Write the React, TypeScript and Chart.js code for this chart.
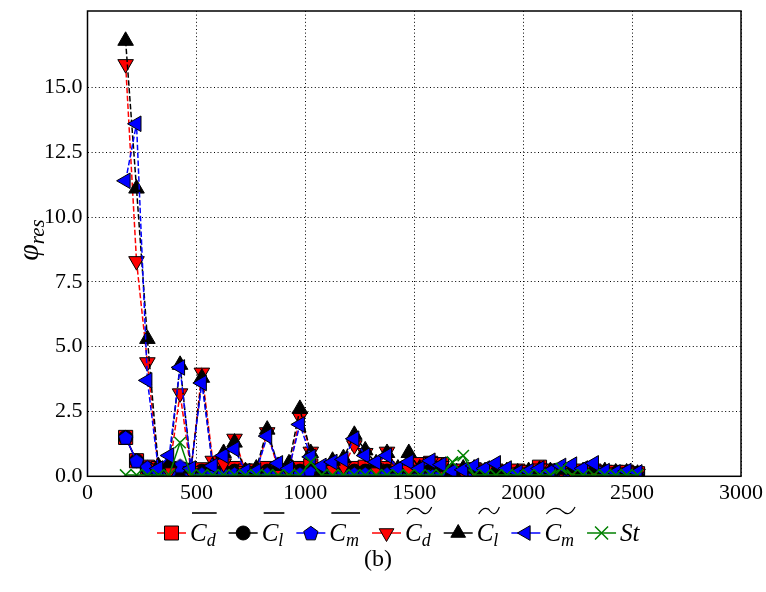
import React, { useEffect, useRef } from 'react';
import { Chart, registerables } from 'chart.js';

Chart.register(...registerables);

// ---------- data ----------
const xValues = [175, 225, 275, 325, 375, 425, 475, 525, 575, 625, 675, 725, 775, 825, 875, 925, 975, 1025, 1075, 1125, 1175, 1225, 1275, 1325, 1375, 1425, 1475, 1525, 1575, 1625, 1675, 1725, 1775, 1825, 1875, 1925, 1975, 2025, 2075, 2125, 2175, 2225, 2275, 2325, 2375, 2425, 2475, 2525];

const cdBar = [1.5, 0.6, 0.35, 0.3, 0.3, 0.25, 0.2, 0.25, 0.2, 0.3, 0.3, 0.2, 0.2, 0.3, 0.2, 0.15, 0.3, 0.4, 0.2, 0.2, 0.25, 0.3, 0.35, 0.2, 0.3, 0.2, 0.25, 0.45, 0.5, 0.45, 0.15, 0.2, 0.25, 0.2, 0.2, 0.15, 0.2, 0.15, 0.35, 0.2, 0.2, 0.15, 0.2, 0.2, 0.15, 0.15, 0.15, 0.1];
const clBar = [1.5, 0.6, 0.3, 0.2, 0.2, 0.2, 0.15, 0.2, 0.15, 0.2, 0.2, 0.15, 0.15, 0.2, 0.15, 0.1, 0.2, 0.2, 0.15, 0.15, 0.2, 0.2, 0.2, 0.15, 0.2, 0.15, 0.2, 0.2, 0.2, 0.15, 0.1, 0.15, 0.15, 0.1, 0.15, 0.1, 0.1, 0.1, 0.15, 0.1, 0.15, 0.1, 0.1, 0.1, 0.1, 0.1, 0.1, 0.1];
const cmBar = [1.5, 0.6, 0.35, 0.15, 0.1, 0.4, 0.1, 0.1, 0.1, 0.1, 0.1, 0.1, 0.1, 0.1, 0.1, 0.1, 0.1, 0.15, 0.1, 0.1, 0.1, 0.1, 0.1, 0.1, 0.1, 0.1, 0.1, 0.1, 0.1, 0.1, 0.1, 0.1, 0.1, 0.1, 0.1, 0.1, 0.1, 0.1, 0.1, 0.1, 0.1, 0.1, 0.1, 0.1, 0.1, 0.1, 0.1, 0.1];
const cdTilde = [15.9, 8.3, 4.4, 0.3, 0.2, 3.2, 0.2, 4.0, 0.6, 0.5, 1.45, 0.2, 0.15, 1.7, 0.3, 0.2, 2.3, 0.95, 0.2, 0.3, 0.4, 1.2, 0.9, 0.3, 0.95, 0.3, 0.25, 0.25, 0.55, 0.4, 0.2, 0.2, 0.25, 0.15, 0.2, 0.15, 0.1, 0.15, 0.3, 0.15, 0.25, 0.2, 0.15, 0.2, 0.15, 0.1, 0.15, 0.1];
const clTilde = [16.8, 11.1, 5.3, 0.4, 0.5, 4.3, 0.3, 3.8, 0.4, 0.9, 1.3, 0.2, 0.3, 1.8, 0.4, 0.5, 2.6, 0.9, 0.2, 0.6, 0.7, 1.6, 1.0, 0.5, 0.9, 0.3, 0.9, 0.3, 0.45, 0.35, 0.2, 0.3, 0.3, 0.2, 0.25, 0.2, 0.15, 0.2, 0.25, 0.2, 0.25, 0.3, 0.2, 0.3, 0.2, 0.15, 0.15, 0.1];
const cmTilde = [11.4, 13.6, 3.7, 0.3, 0.8, 4.2, 0.3, 3.6, 0.4, 0.8, 1.05, 0.2, 0.2, 1.55, 0.5, 0.3, 2.0, 0.75, 0.4, 0.55, 0.65, 1.45, 0.8, 0.55, 0.8, 0.3, 0.55, 0.3, 0.6, 0.45, 0.2, 0.25, 0.4, 0.3, 0.5, 0.3, 0.15, 0.2, 0.3, 0.2, 0.4, 0.45, 0.3, 0.5, 0.2, 0.15, 0.2, 0.15];
const st = [0.05, 0.05, 0.05, 0.05, 0.05, 1.3, 0.05, 0.05, 0.05, 0.05, 0.05, 0.05, 0.05, 0.05, 0.05, 0.05, 0.05, 0.55, 0.05, 0.05, 0.05, 0.05, 0.05, 0.05, 0.05, 0.05, 0.05, 0.05, 0.05, 0.05, 0.55, 0.8, 0.05, 0.05, 0.05, 0.05, 0.05, 0.05, 0.05, 0.05, 0.3, 0.05, 0.05, 0.05, 0.05, 0.05, 0.05, 0.05];

const xTicks = [0, 500, 1000, 1500, 2000, 2500, 3000];
const yTicks = [0, 2.5, 5, 7.5, 10, 12.5, 15];

const legendItems = [
  { base: 'C', sub: 'd', deco: 'bar', marker: 'square', fill: '#ff0000', line: '#ff0000' },
  { base: 'C', sub: 'l', deco: 'bar', marker: 'circle', fill: '#000000', line: '#000000' },
  { base: 'C', sub: 'm', deco: 'bar', marker: 'pentagon', fill: '#0000ff', line: '#0000ff' },
  { base: 'C', sub: 'd', deco: 'tilde', marker: 'down', fill: '#ff0000', line: '#ff0000' },
  { base: 'C', sub: 'l', deco: 'tilde', marker: 'up', fill: '#000000', line: '#000000' },
  { base: 'C', sub: 'm', deco: 'tilde', marker: 'left', fill: '#0000ff', line: '#0000ff' },
  { base: 'St', sub: '', deco: '', marker: 'x', fill: '#008000', line: '#008000' },
];

const FONT = '"Liberation Serif", "Times New Roman", serif';

function pentagonPath(ctx: CanvasRenderingContext2D, cx: number, cy: number, r: number) {
  ctx.beginPath();
  for (let k = 0; k < 5; k++) {
    const a = -Math.PI / 2 + (k * 2 * Math.PI) / 5;
    const px = cx + r * Math.cos(a);
    const py = cy + r * Math.sin(a);
    if (k === 0) ctx.moveTo(px, py);
    else ctx.lineTo(px, py);
  }
  ctx.closePath();
}

function makePentagon(size: number, fill: string) {
  const c = document.createElement('canvas');
  c.width = size;
  c.height = size;
  const ctx = c.getContext('2d')!;
  const r = size / 2 - 1;
  pentagonPath(ctx, size / 2, size / 2 + r * 0.1, r);
  ctx.fillStyle = fill;
  ctx.fill();
  ctx.lineWidth = 1;
  ctx.strokeStyle = '#000';
  ctx.stroke();
  return c;
}

function drawMarker(ctx: CanvasRenderingContext2D, kind: string, x: number, y: number, fill: string) {
  ctx.save();
  ctx.fillStyle = fill;
  ctx.strokeStyle = '#000';
  ctx.lineWidth = 1;
  ctx.beginPath();
  const tri = (rot: number, r: number) => {
    for (let k = 0; k < 3; k++) {
      const a = rot + (k * 2 * Math.PI) / 3;
      const px = x + Math.sin(a) * r;
      const py = y - Math.cos(a) * r;
      if (k === 0) ctx.moveTo(px, py);
      else ctx.lineTo(px, py);
    }
    ctx.closePath();
  };
  if (kind === 'square') {
    ctx.rect(x - 7, y - 7, 14, 14);
  } else if (kind === 'circle') {
    ctx.arc(x, y, 7, 0, Math.PI * 2);
  } else if (kind === 'pentagon') {
    pentagonPath(ctx, x, y + 0.8, 7.5);
  } else if (kind === 'up') {
    tri(0, 8.5);
  } else if (kind === 'down') {
    tri(Math.PI, 8.5);
  } else if (kind === 'left') {
    tri(-Math.PI / 2, 8.5);
  }
  if (kind === 'x') {
    ctx.strokeStyle = fill;
    ctx.lineWidth = 1.5;
    const r = 6.5;
    ctx.moveTo(x - r, y - r);
    ctx.lineTo(x + r, y + r);
    ctx.moveTo(x - r, y + r);
    ctx.lineTo(x + r, y - r);
    ctx.stroke();
  } else {
    ctx.fill();
    ctx.stroke();
  }
  ctx.restore();
}

const decorPlugin = {
  id: 'decor',
  afterDraw(chart: any) {
    const ctx: CanvasRenderingContext2D = chart.ctx;
    const a = chart.chartArea;
    ctx.save();
    // axes box
    ctx.strokeStyle = '#000';
    ctx.lineWidth = 1.5;
    ctx.setLineDash([]);
    ctx.strokeRect(a.left, a.top, a.right - a.left, a.bottom - a.top);

    // y label
    ctx.save();
    ctx.translate(38, 240);
    ctx.rotate(-Math.PI / 2);
    ctx.fillStyle = '#000';
    ctx.textBaseline = 'alphabetic';
    ctx.font = `italic 30px ${FONT}`;
    const phiW = ctx.measureText('φ').width;
    ctx.font = `italic 21px ${FONT}`;
    const resW = ctx.measureText('res').width;
    const total = phiW + resW;
    ctx.font = `italic 30px ${FONT}`;
    ctx.fillText('φ', -total / 2, 0);
    ctx.font = `italic 21px ${FONT}`;
    ctx.fillText('res', -total / 2 + phiW, 6);
    ctx.restore();

    // legend
    let x = 157;
    const ly = 533;
    const base = 541;
    for (const it of legendItems) {
      ctx.strokeStyle = it.line;
      ctx.lineWidth = 1.5;
      ctx.beginPath();
      ctx.moveTo(x, ly);
      ctx.lineTo(x + 29, ly);
      ctx.stroke();
      drawMarker(ctx, it.marker, x + 14.5, ly, it.fill);
      let tx = x + 33;
      const start = tx;
      ctx.fillStyle = '#000';
      ctx.font = `italic 25px ${FONT}`;
      ctx.fillText(it.base, tx, base);
      tx += ctx.measureText(it.base).width;
      if (it.sub) {
        ctx.font = `italic 18px ${FONT}`;
        ctx.fillText(it.sub, tx, base + 5);
        tx += ctx.measureText(it.sub).width;
      }
      const end = tx;
      ctx.strokeStyle = '#000';
      ctx.lineWidth = 1.6;
      if (it.deco === 'bar') {
        ctx.beginPath();
        ctx.moveTo(start + 2, 513);
        ctx.lineTo(end + 1, 513);
        ctx.stroke();
      } else if (it.deco === 'tilde') {
        const x0 = start + 2;
        const x1 = end + 1;
        const w = x1 - x0;
        ctx.lineWidth = 1.2;
        ctx.beginPath();
        ctx.moveTo(x0, 514);
        ctx.bezierCurveTo(x0 + w * 0.25, 505, x0 + w * 0.5, 509, x0 + w * 0.55, 511);
        ctx.bezierCurveTo(x0 + w * 0.7, 515, x0 + w * 0.85, 515, x1, 507);
        ctx.stroke();
      }
      x = end + 13;
    }

    // (b)
    ctx.fillStyle = '#000';
    ctx.font = `24px ${FONT}`;
    ctx.textAlign = 'center';
    ctx.fillText('(b)', 378, 566);
    ctx.restore();
  },
};

export default function App() {
  const ref = useRef<HTMLCanvasElement | null>(null);

  useEffect(() => {
    document.body.style.margin = '0';
    const canvas = ref.current!;
    const pent = makePentagon(17, '#0000ff');
    const mk = (arr: number[]) => xValues.map((x, i) => ({ x, y: arr[i] }));
    const dash = [5.5, 2.4];
    const common = { borderWidth: 1.5, pointBorderColor: '#000', pointBorderWidth: 1, tension: 0, clip: 0, fill: false };
    const datasets: any[] = [
      { ...common, label: 'Cd_bar', data: mk(cdBar), borderColor: '#ff0000', pointStyle: 'rect', pointRadius: 10, pointBackgroundColor: '#ff0000' },
      { ...common, label: 'Cl_bar', data: mk(clBar), borderColor: '#000000', pointStyle: 'circle', pointRadius: 7, pointBackgroundColor: '#000000' },
      { ...common, label: 'Cm_bar', data: mk(cmBar), borderColor: '#0000ff', pointStyle: pent, pointRadius: 8, pointBackgroundColor: '#0000ff' },
      { ...common, label: 'Cd_tilde', data: mk(cdTilde), borderColor: '#ff0000', borderDash: dash, pointStyle: 'triangle', pointRotation: 180, pointRadius: 9, pointBackgroundColor: '#ff0000' },
      { ...common, label: 'Cl_tilde', data: mk(clTilde), borderColor: '#000000', borderDash: dash, pointStyle: 'triangle', pointRotation: 0, pointRadius: 9, pointBackgroundColor: '#000000' },
      { ...common, label: 'Cm_tilde', data: mk(cmTilde), borderColor: '#0000ff', borderDash: dash, pointStyle: 'triangle', pointRotation: 270, pointRadius: 9, pointBackgroundColor: '#0000ff' },
      { ...common, label: 'St', data: mk(st), borderColor: '#008000', pointStyle: 'crossRot', pointRadius: 8, pointBorderColor: '#008000', pointBorderWidth: 1.5, pointBackgroundColor: '#008000' },
    ];
    datasets.forEach((d, i) => (d.order = datasets.length - i));

    const tickFont = { family: FONT, size: 22 };
    const chart = new Chart(canvas, {
      type: 'line',
      data: { datasets },
      plugins: [decorPlugin],
      options: {
        responsive: false,
        animation: false,
        events: [],
        layout: { padding: { left: 0, right: 25, top: 9.5, bottom: 0 } },
        plugins: { legend: { display: false }, tooltip: { enabled: false }, title: { display: false } },
        scales: {
          x: {
            type: 'linear',
            min: 0,
            max: 3000,
            afterBuildTicks: (s: any) => { s.ticks = xTicks.map((v) => ({ value: v })); },
            afterFit: (s: any) => { s.height = 115.7; s.paddingLeft = 0; s.paddingRight = 0; },
            ticks: { font: tickFont, color: '#000', padding: 4, maxRotation: 0, callback: (v: any) => String(v) },
            grid: { color: '#000', lineWidth: 1, drawTicks: false },
            border: { display: false, dash: [1, 2.6] },
          },
          y: {
            type: 'linear',
            min: 0,
            max: 17.95,
            afterBuildTicks: (s: any) => { s.ticks = yTicks.map((v) => ({ value: v })); },
            afterFit: (s: any) => { s.width = 87.5; s.paddingTop = 0; s.paddingBottom = 0; },
            ticks: { font: tickFont, color: '#000', padding: 5, callback: (v: any) => Number(v).toFixed(1) },
            grid: { color: '#000', lineWidth: 1, drawTicks: false },
            border: { display: false, dash: [1, 2.6] },
          },
        },
      } as any,
    });
    return () => chart.destroy();
  }, []);

  return (
    <div style={{ width: 766, height: 592 }}>
      <canvas ref={ref} width={766} height={592} style={{ display: 'block', width: 766, height: 592 }} />
    </div>
  );
}
